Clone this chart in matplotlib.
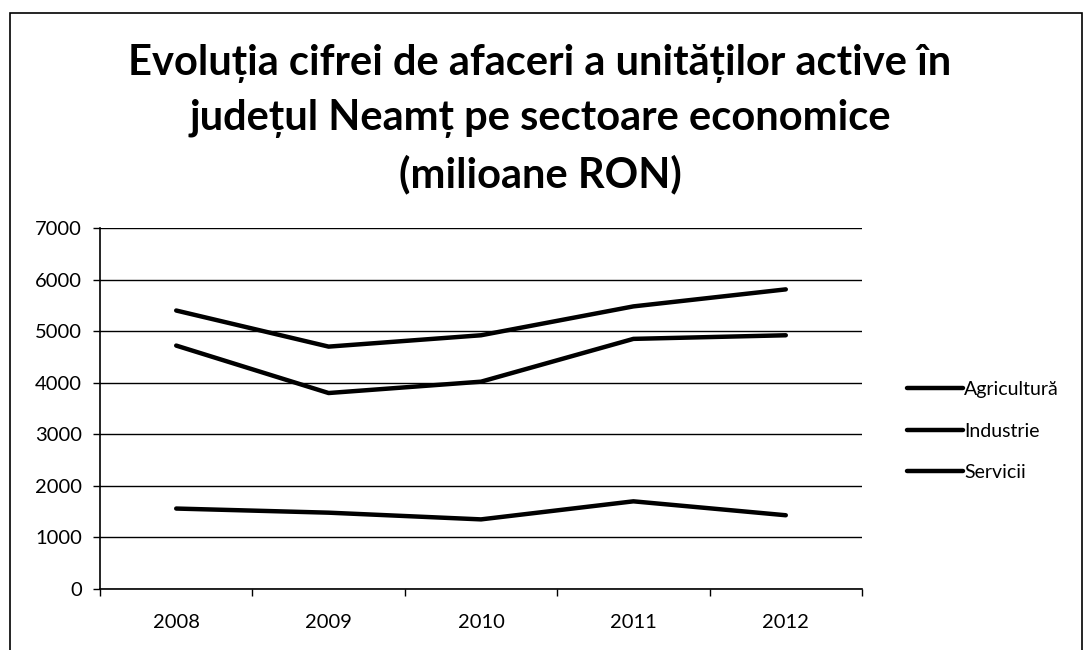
import matplotlib.pyplot as plt
import numpy as np
from matplotlib.patches import Rectangle

years = ["2008", "2009", "2010", "2011", "2012"]
agricultura = [1560, 1480, 1350, 1700, 1430]
industrie = [4720, 3800, 4020, 4850, 4920]
servicii = [5400, 4700, 4920, 5480, 5810]
series = [("Agricultură", agricultura), ("Industrie", industrie), ("Servicii", servicii)]

plt.rcParams["font.family"] = ["Lato", "DejaVu Sans"]

fig = plt.figure(figsize=(10.86, 6.5), dpi=100)
ax = fig.add_axes([100 / 1086, 1 - 589 / 650, 762 / 1086, 361 / 650])

x = np.arange(len(years))
for name, vals in series:
    ax.plot(x, vals, color="black", lw=3.2, solid_capstyle="round", label=name)

ax.set_xlim(-0.5, len(years) - 0.5)
ax.set_ylim(0, 7000)
ax.set_yticks(np.arange(0, 7001, 1000))
ax.tick_params(axis="y", labelsize=14.5, length=5, width=1, direction="out", pad=8)
ax.set_xticks(x)
ax.set_xticklabels(years)
ax.tick_params(axis="x", which="major", length=0, labelsize=14.5, pad=18)
ax.set_xticks(np.arange(-0.5, len(years)), minor=True)
ax.tick_params(axis="x", which="minor", length=5, width=1, direction="out")
ax.yaxis.grid(True, color="black", lw=1)
ax.set_axisbelow(True)
for s in ["top", "right"]:
    ax.spines[s].set_visible(False)
for s in ["left", "bottom"]:
    ax.spines[s].set_color("black")
    ax.spines[s].set_linewidth(1.2)

fig.text(540 / 1086, 1 - 119 / 650,
         "Evoluția cifrei de afaceri a unităților active în\njudețul Neamț pe sectoare economice\n(milioane RON)",
         ha="center", va="center", fontsize=30, fontweight="bold", linespacing=1.5)

ax.legend(loc="center left", bbox_to_anchor=(889 / 1086, 1 - 431 / 650),
          bbox_transform=fig.transFigure, frameon=False, fontsize=14,
          handlelength=2.9, handletextpad=0.05, labelspacing=1.25)

fig.patches.append(Rectangle((10 / 1086, -0.01), 1072 / 1086, 1 - 13 / 650 + 0.01,
                             transform=fig.transFigure, fill=False, ec="black", lw=1.2))

fig.savefig("out.png", dpi=100, facecolor="white")
